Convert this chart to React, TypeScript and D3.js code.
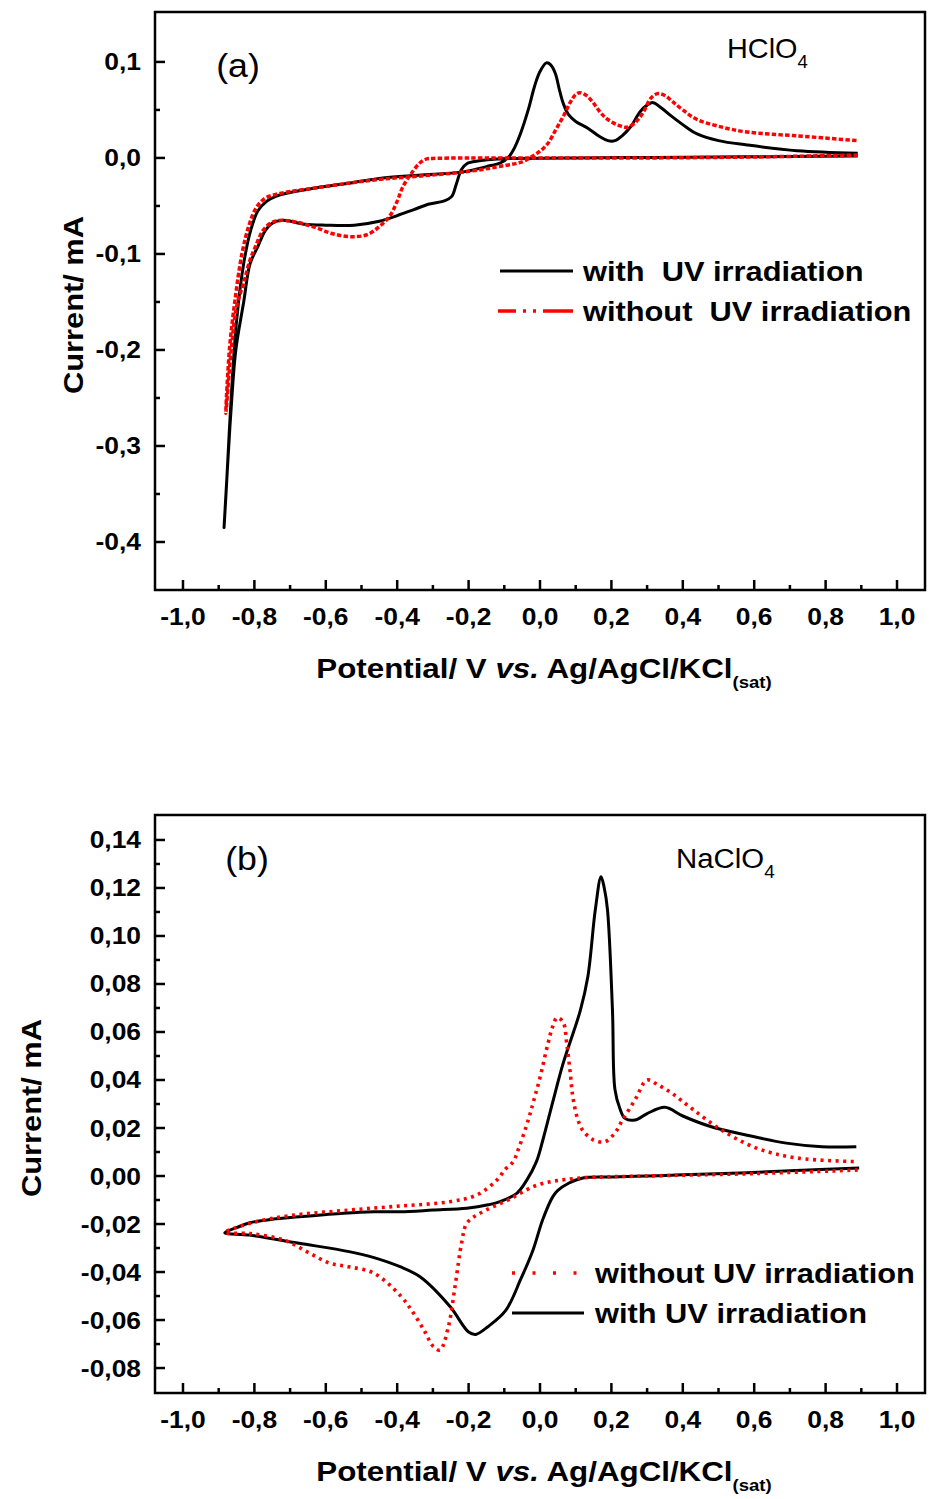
import React from 'react';
import * as d3 from 'd3';

// ---------- tick data ----------
const xTickValues = [-1.0, -0.8, -0.6, -0.4, -0.2, 0.0, 0.2, 0.4, 0.6, 0.8, 1.0];
const xTickLabels = ['-1,0', '-0,8', '-0,6', '-0,4', '-0,2', '0,0', '0,2', '0,4', '0,6', '0,8', '1,0'];
const xMinorValues = [-0.9, -0.7, -0.5, -0.3, -0.1, 0.1, 0.3, 0.5, 0.7, 0.9];

const aYTickValues = [0.1, 0.0, -0.1, -0.2, -0.3, -0.4];
const aYTickLabels = ['0,1', '0,0', '-0,1', '-0,2', '-0,3', '-0,4'];
const aYMinorValues = [0.05, -0.05, -0.15, -0.25, -0.35];

const bYTickValues = [0.14, 0.12, 0.10, 0.08, 0.06, 0.04, 0.02, 0.0, -0.02, -0.04, -0.06, -0.08];
const bYTickLabels = ['0,14', '0,12', '0,10', '0,08', '0,06', '0,04', '0,02', '0,00', '-0,02', '-0,04', '-0,06', '-0,08'];
const bYMinorValues = [0.13, 0.11, 0.09, 0.07, 0.05, 0.03, 0.01, -0.01, -0.03, -0.05, -0.07];

// ---------- panel (a) HClO4 ----------
const aWithPotential = [
  0.89, 0.7, 0.5, 0.3, 0.1, -0.05, -0.12, -0.17, -0.205, -0.22, -0.235, -0.247, -0.27, -0.31, -0.355, -0.4, -0.45,
  -0.52, -0.6, -0.66, -0.72, -0.75, -0.77, -0.79, -0.812, -0.83, -0.852, -0.865, -0.875, -0.885,
  -0.878, -0.865, -0.85, -0.83, -0.81, -0.79, -0.765, -0.74, -0.7, -0.625, -0.53, -0.44, -0.34, -0.215, -0.15, -0.11,
  -0.09, -0.075, -0.055, -0.033, -0.015, 0.0, 0.018, 0.03, 0.043, 0.055, 0.065, 0.08, 0.1, 0.134, 0.168, 0.19, 0.21,
  0.23, 0.255, 0.28, 0.3, 0.317, 0.34, 0.37, 0.41, 0.44, 0.5, 0.58, 0.72, 0.89,
];
const aWithCurrent = [
  0.002, 0.0015, 0.001, 0.0005, 0.0, -0.0005, -0.001, -0.003, -0.006, -0.012, -0.028, -0.04, -0.045, -0.048, -0.054, -0.06, -0.066,
  -0.07, -0.07, -0.069, -0.065, -0.068, -0.076, -0.092, -0.11, -0.15, -0.2, -0.26, -0.32, -0.385,
  -0.34, -0.25, -0.17, -0.11, -0.075, -0.055, -0.045, -0.04, -0.036, -0.031, -0.026, -0.021, -0.018, -0.0145, -0.009, -0.005,
  0.0, 0.008, 0.025, 0.05, 0.075, 0.09, 0.099, 0.097, 0.088, 0.07, 0.057, 0.045, 0.038, 0.031, 0.022, 0.018, 0.018,
  0.023, 0.033, 0.048, 0.055, 0.0576, 0.052, 0.043, 0.032, 0.025, 0.018, 0.0135, 0.0076, 0.005,
];
const aWithoutPotential = [
  0.89, 0.6, 0.3, 0.0, -0.2, -0.3, -0.317, -0.336, -0.36, -0.384, -0.4, -0.42, -0.45, -0.485, -0.53, -0.58, -0.625,
  -0.68, -0.72, -0.75, -0.775, -0.8, -0.812, -0.83, -0.85, -0.865, -0.88,
  -0.87, -0.855, -0.835, -0.815, -0.795, -0.77, -0.74, -0.7, -0.625, -0.53, -0.44, -0.34, -0.2, -0.1, -0.05, -0.02,
  0.0, 0.022, 0.045, 0.065, 0.085, 0.1, 0.112, 0.13, 0.148, 0.17, 0.19, 0.22, 0.245, 0.27, 0.29, 0.31, 0.329, 0.35,
  0.37, 0.4, 0.44, 0.5, 0.58, 0.72, 0.89,
];
const aWithoutCurrent = [
  0.003, 0.001, 0.0, 0.0, 0.0, -0.0005, -0.001, -0.005, -0.016, -0.03, -0.045, -0.06, -0.0715, -0.08, -0.082, -0.079, -0.073,
  -0.067, -0.065, -0.067, -0.075, -0.095, -0.106, -0.13, -0.155, -0.2, -0.266,
  -0.2, -0.15, -0.1, -0.07, -0.052, -0.042, -0.038, -0.035, -0.031, -0.026, -0.022, -0.019, -0.014, -0.008, -0.004, 0.002,
  0.007, 0.015, 0.03, 0.043, 0.058, 0.066, 0.068, 0.065, 0.058, 0.047, 0.04, 0.034, 0.032, 0.038, 0.048, 0.062, 0.067, 0.065,
  0.059, 0.05, 0.04, 0.033, 0.027, 0.023, 0.018,
];

// ---------- panel (b) NaClO4 ----------
const bWithPotential = [
  0.894, 0.7, 0.58, 0.4, 0.3, 0.2, 0.12, 0.08, 0.05, 0.036, 0.008, -0.02, -0.054, -0.096, -0.146, -0.18, -0.2, -0.252,
  -0.336, -0.392, -0.465, -0.535, -0.675, -0.813, -0.883,
  -0.85, -0.813, -0.75, -0.675, -0.55, -0.465, -0.392, -0.3, -0.205, -0.145, -0.112, -0.065, -0.037, -0.01, 0.008, 0.036,
  0.065, 0.113, 0.134, 0.155, 0.171, 0.18, 0.189, 0.203, 0.21, 0.224, 0.238, 0.266, 0.3, 0.35, 0.4, 0.48, 0.58, 0.69,
  0.79, 0.886,
];
const bWithCurrent = [
  0.0033, 0.0022, 0.0014, 0.0005, 0.0, -0.0004, -0.0008, -0.003, -0.006, -0.0086, -0.018, -0.031, -0.043, -0.056, -0.0628, -0.066, -0.065, -0.0544,
  -0.042, -0.0378, -0.034, -0.0315, -0.028, -0.0246, -0.0236,
  -0.0215, -0.0195, -0.018, -0.017, -0.0155, -0.0149, -0.0149, -0.0142, -0.0134, -0.012, -0.0107, -0.0072, -0.0017, 0.006, 0.015, 0.031,
  0.047, 0.069, 0.083, 0.111, 0.1247, 0.12, 0.111, 0.069, 0.036, 0.028, 0.024, 0.0233, 0.026, 0.0286, 0.025, 0.0205, 0.017, 0.0137,
  0.0122, 0.0122,
];
const bWithoutPotential = [
  0.89, 0.6, 0.3, 0.1, -0.006, -0.09, -0.168, -0.205, -0.219, -0.238, -0.257, -0.28, -0.299, -0.322, -0.355, -0.39,
  -0.465, -0.535, -0.59, -0.647, -0.717, -0.813, -0.883,
  -0.81, -0.7, -0.535, -0.392, -0.252, -0.177, -0.121, -0.096, -0.075, -0.061, -0.033, -0.017, 0.0, 0.022, 0.035, 0.048,
  0.065, 0.075, 0.084, 0.092, 0.105, 0.12, 0.15, 0.182, 0.21, 0.231, 0.266, 0.3, 0.33, 0.37, 0.426, 0.51, 0.607, 0.72, 0.886,
];
const bWithoutCurrent = [
  0.0025, 0.001, 0.0, -0.001, -0.0037, -0.01, -0.0155, -0.0197, -0.0274, -0.046, -0.063, -0.0725, -0.071, -0.065, -0.057, -0.05,
  -0.0405, -0.0378, -0.0363, -0.032, -0.0267, -0.024, -0.0236,
  -0.0196, -0.0165, -0.0142, -0.0125, -0.0107, -0.0079, -0.0017, 0.003, 0.006, 0.011, 0.0233, 0.0317, 0.041, 0.055, 0.062, 0.066,
  0.064, 0.055, 0.044, 0.033, 0.024, 0.019, 0.015, 0.0143, 0.018, 0.0233, 0.0317, 0.04, 0.038, 0.0344, 0.028, 0.019, 0.0116, 0.0075, 0.006,
];

const FONT = 'Arial, "Liberation Sans", sans-serif';
const RED = '#ff0000';

type STextProps = {
  x: number; y: number; sx?: number; rotate?: number; size: number; bold?: boolean;
  anchor?: string; children?: React.ReactNode;
};
function SText({ x, y, sx = 1.1, rotate = 0, size, bold = true, anchor = 'start', children }: STextProps) {
  return (
    <text
      transform={`translate(${x},${y}) rotate(${rotate}) scale(${sx},1)`}
      fontFamily={FONT}
      fontSize={size}
      fontWeight={bold ? 'bold' : 'normal'}
      textAnchor={anchor}
      style={{ whiteSpace: 'pre' }}
      fill="#000"
    >
      {children}
    </text>
  );
}

type Series = { pot: number[]; cur: number[]; color: string; width: number; dash?: string };

type PanelProps = {
  top: number; bottom: number; yDomain: [number, number];
  yTicks: number[]; yLabels: string[]; yMinor: number[];
  series: Series[];
  yTitleX: number;
  children?: React.ReactNode;
};

const LEFT = 155;
const RIGHT = 925;

function Panel({ top, bottom, yDomain, yTicks, yLabels, yMinor, series, yTitleX, children }: PanelProps) {
  const xs = d3.scaleLinear().domain([-1.0784, 1.0784]).range([LEFT, RIGHT]);
  const ys = d3.scaleLinear().domain(yDomain).range([bottom, top]);
  const line = d3
    .line<[number, number]>()
    .x((d) => xs(d[0]))
    .y((d) => ys(d[1]))
    .curve(d3.curveCatmullRom.alpha(0.5));
  return (
    <g>
      {series.map((s, i) => {
        const pts = s.pot.map((p, j) => [p, s.cur[j]] as [number, number]);
        return (
          <path
            key={i}
            d={line(pts) || ''}
            fill="none"
            stroke={s.color}
            strokeWidth={s.width}
            strokeDasharray={s.dash}
            strokeLinejoin="round"
          />
        );
      })}
      <rect x={LEFT} y={top} width={RIGHT - LEFT} height={bottom - top} fill="none" stroke="#000" strokeWidth={2.5} />
      {yTicks.map((v, i) => (
        <g key={'yt' + i}>
          <line x1={LEFT} x2={LEFT + 10} y1={ys(v)} y2={ys(v)} stroke="#000" strokeWidth={2.5} />
          <SText x={141} y={ys(v) + 8.5} size={24} sx={1.1} anchor="end">{yLabels[i]}</SText>
        </g>
      ))}
      {yMinor.map((v, i) => (
        <line key={'ym' + i} x1={LEFT} x2={LEFT + 5} y1={ys(v)} y2={ys(v)} stroke="#000" strokeWidth={2.5} />
      ))}
      {xTickValues.map((v, i) => (
        <g key={'xt' + i}>
          <line x1={xs(v)} x2={xs(v)} y1={bottom} y2={bottom - 10} stroke="#000" strokeWidth={2.5} />
          <SText x={xs(v)} y={bottom + 35} size={24} sx={1.1} anchor="middle">{xTickLabels[i]}</SText>
        </g>
      ))}
      {xMinorValues.map((v, i) => (
        <line key={'xm' + i} x1={xs(v)} x2={xs(v)} y1={bottom} y2={bottom - 5} stroke="#000" strokeWidth={2.5} />
      ))}
      <SText x={yTitleX} y={(top + bottom) / 2 + 4} rotate={-90} size={28} sx={1.1} anchor="middle">Current/ mA</SText>
      <SText x={544} y={bottom + 88} size={27} sx={1.16} anchor="middle">
        Potential/ V <tspan fontStyle="italic">vs.</tspan> Ag/AgCl/KCl
        <tspan fontSize={16} dy={10}>(sat)</tspan>
      </SText>
      {children}
    </g>
  );
}

export default function App() {
  const aSeries: Series[] = [
    { pot: aWithPotential, cur: aWithCurrent, color: '#000', width: 3 },
    { pot: aWithoutPotential, cur: aWithoutCurrent, color: RED, width: 3.5, dash: '4.5,2.2' },
  ];
  const bSeries: Series[] = [
    { pot: bWithPotential, cur: bWithCurrent, color: '#000', width: 3 },
    { pot: bWithoutPotential, cur: bWithoutCurrent, color: RED, width: 3.6, dash: '3,4.5' },
  ];
  return (
    <svg
      width={929}
      height={1499}
      style={{ position: 'absolute', left: 0, top: 0, display: 'block', background: '#fff' }}
    >
      <rect x={0} y={0} width={929} height={1499} fill="#fff" />
      <Panel
        top={12}
        bottom={590}
        yDomain={[-0.45, 0.152]}
        yTicks={aYTickValues}
        yLabels={aYTickLabels}
        yMinor={aYMinorValues}
        series={aSeries}
        yTitleX={83}
      >
        <SText x={238} y={77} size={34} bold={false} sx={1.05} anchor="middle">(a)</SText>
        <SText x={727} y={58} size={28} bold={false} sx={1.03}>
          HClO<tspan fontSize={18} dy={10}>4</tspan>
        </SText>
        <line x1={500} x2={573} y1={271} y2={271} stroke="#000" strokeWidth={3} />
        <SText x={583} y={281} size={28} sx={1.1}>with  UV irradiation</SText>
        <line x1={498} x2={573} y1={311} y2={311} stroke={RED} strokeWidth={3.5} strokeDasharray="18,7,3,7,3,7,30" />
        <SText x={583} y={321} size={28} sx={1.1}>without  UV irradiation</SText>
      </Panel>
      <Panel
        top={815}
        bottom={1393}
        yDomain={[-0.0904, 0.1504]}
        yTicks={bYTickValues}
        yLabels={bYTickLabels}
        yMinor={bYMinorValues}
        series={bSeries}
        yTitleX={41}
      >
        <SText x={247} y={870} size={34} bold={false} sx={1.05} anchor="middle">(b)</SText>
        <SText x={676} y={868} size={28} bold={false} sx={1.05}>
          NaClO<tspan fontSize={18} dy={10}>4</tspan>
        </SText>
        <line x1={512} x2={582} y1={1273} y2={1273} stroke={RED} strokeWidth={3.6} strokeDasharray="3,17.5" />
        <SText x={595} y={1283} size={28} sx={1.1}>without UV irradiation</SText>
        <line x1={512} x2={584} y1={1313} y2={1313} stroke="#000" strokeWidth={3} />
        <SText x={595} y={1323} size={28} sx={1.1}>with UV irradiation</SText>
      </Panel>
    </svg>
  );
}
